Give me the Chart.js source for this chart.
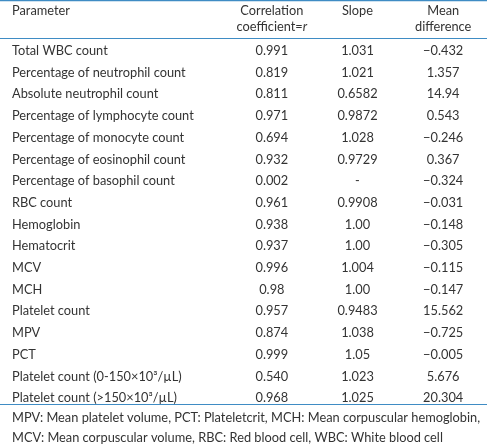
<!DOCTYPE html>
<html>
<head>
<meta charset="utf-8">
<script src="https://cdn.jsdelivr.net/npm/chart.js@4.4.0/dist/chart.umd.min.js"></script>
<style>
html, body { margin: 0; padding: 0; background: #fff; }
#wrap { position: relative; width: 487px; height: 444px; }
</style>
</head>
<body>
<div id="wrap"><canvas id="tableChart"></canvas></div>
<script>
// table data
const parameters = [
    'Total WBC count',
    'Percentage of neutrophil count',
    'Absolute neutrophil count',
    'Percentage of lymphocyte count',
    'Percentage of monocyte count',
    'Percentage of eosinophil count',
    'Percentage of basophil count',
    'RBC count',
    'Hemoglobin',
    'Hematocrit',
    'MCV',
    'MCH',
    'Platelet count',
    'MPV',
    'PCT',
    'Platelet count (0-150\u00d710\u00b3/\u00b5L)',
    'Platelet count (>150\u00d710\u00b3/\u00b5L)'
];
const correlation = ['0.991', '0.819', '0.811', '0.971', '0.694', '0.932', '0.002', '0.961', '0.938', '0.937',
    '0.996', '0.98', '0.957', '0.874', '0.999', '0.540', '0.968'];
const slope = ['1.031', '1.021', '0.6582', '0.9872', '1.028', '0.9729', null, '0.9908', '1.00', '1.00',
    '1.004', '1.00', '0.9483', '1.038', '1.05', '1.023', '1.025'];
const meanDifference = ['-0.432', '1.357', '14.94', '0.543', '-0.246', '0.367', '-0.324', '-0.031', '-0.148', '-0.305',
    '-0.115', '-0.147', '15.562', '-0.725', '-0.005', '5.676', '20.304'];
const columns = ['Correlation', 'Slope', 'Mean difference'];
const footnote = [
    'MPV: Mean platelet volume, PCT: Plateletcrit, MCH: Mean corpuscular hemoglobin,',
    'MCV: Mean corpuscular volume, RBC: Red blood cell, WBC: White blood cell'
];

const FONT = '12.8px Lato';
const TEXT = '#333333';
const RULE = '#3f8cc4';

function cellData(col, values) {
    return values.map((v, i) => ({ x: col, y: parameters[i] }));
}

// draws the table text and rules on top of the (invisible) points
const tablePlugin = {
    id: 'tablePlugin',
    afterDraw(chart) {
        const ctx = chart.ctx;
        const x = chart.scales.x;
        const W = chart.width;
        ctx.save();
        ctx.font = FONT;
        ctx.fillStyle = TEXT;
        ctx.textBaseline = 'middle';

        // rules
        ctx.strokeStyle = RULE;
        ctx.lineWidth = 1.2;
        [0.6, 38.5, 404.5].forEach(yy => {
            ctx.beginPath();
            ctx.moveTo(0, yy);
            ctx.lineTo(W, yy);
            ctx.stroke();
        });

        // header
        ctx.textAlign = 'left';
        ctx.fillText('Parameter', 12, 11);
        ctx.textAlign = 'center';
        const cx = x.getPixelForValue(0);
        ctx.fillText('Correlation', cx, 11);
        const w1 = ctx.measureText('coefficient=').width;
        ctx.font = 'italic ' + FONT;
        const w2 = ctx.measureText('r').width;
        ctx.textAlign = 'left';
        ctx.fillText('r', cx - (w1 + w2) / 2 + w1, 27);
        ctx.font = FONT;
        ctx.fillText('coefficient=', cx - (w1 + w2) / 2, 27);
        ctx.textAlign = 'center';
        ctx.fillText('Slope', x.getPixelForValue(1), 11);
        ctx.fillText('Mean', x.getPixelForValue(2), 11);
        ctx.fillText('difference', x.getPixelForValue(2), 27);

        // row labels, placed with the y scale
        ctx.textAlign = 'left';
        parameters.forEach((p, i) => {
            ctx.fillText(p, 12, chart.scales.y.getPixelForValue(i));
        });

        // cells, placed on each data point
        const sets = [correlation, slope, meanDifference];
        ctx.textAlign = 'center';
        chart.data.datasets.forEach((ds, di) => {
            const meta = chart.getDatasetMeta(di);
            meta.data.forEach((pt, i) => {
                let v = sets[di][i];
                if (v === null) v = '-';
                else v = v.replace('-', '\u2212');
                ctx.fillText(v, pt.x, pt.y);
            });
        });

        // footnote
        ctx.textAlign = 'left';
        footnote.forEach((line, i) => ctx.fillText(line, 12, 418 + i * 20));
        ctx.restore();
    }
};

const tableChart = new Chart(document.getElementById('tableChart').getContext('2d'), {
    type: 'line',
    data: {
        datasets: [
            { data: cellData(columns[0], correlation) },
            { data: cellData(columns[1], slope) },
            { data: cellData(columns[2], meanDifference) }
        ]
    },
    options: {
        responsive: true,
        maintainAspectRatio: false,
        animation: false,
        showLine: false,
        pointRadius: 0,
        events: [],
        layout: { padding: { left: 229, right: 1, top: 40, bottom: 35 } },
        plugins: { legend: { display: false }, tooltip: { enabled: false } },
        scales: {
            x: { type: 'category', labels: columns, offset: true, display: false },
            y: { type: 'category', labels: parameters, offset: true, display: false }
        }
    },
    plugins: [tablePlugin]
});
</script>
</body>
</html>
